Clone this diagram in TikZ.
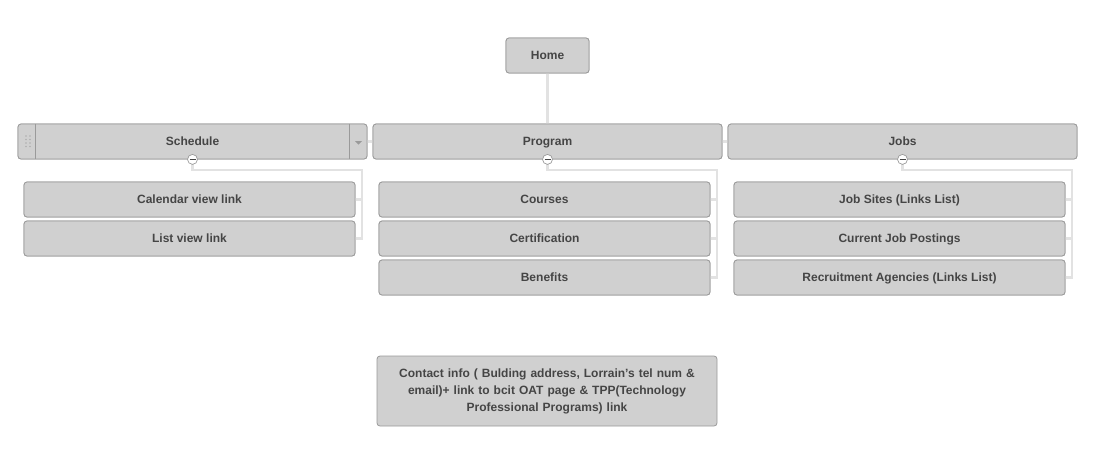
\documentclass[tikz,border=0pt]{standalone}
\usepackage{fontspec}
\setmainfont{Liberation Sans}
\usepackage{tikz}
\usetikzlibrary{positioning}
\definecolor{boxfill}{HTML}{D0D0D0}
\definecolor{boxline}{HTML}{9A9A9A}
\definecolor{boxtext}{HTML}{454545}
\definecolor{linkline}{HTML}{E2E2E2}
\tikzset{page/.style={rectangle,rounded corners=3pt,draw=boxline,fill=boxfill,line width=0.8pt,
    text=boxtext,font=\fontsize{12}{14}\selectfont\bfseries,minimum height=35pt,inner sep=0pt,
    text height=9pt,text depth=2pt},
  top/.style={page,minimum width=349pt},
  sub/.style={page,minimum width=331pt},
  link/.style={draw=linkline,line width=2.6pt},
  toggle/.style={circle,draw=boxline,fill=white,line width=0.7pt,minimum size=10pt,inner sep=0pt}}

\begin{document}
\begin{tikzpicture}[x=1pt,y=-1pt]
        \useasboundingbox (0,0) rectangle (1100,464);
        % links first so boxes sit on top
        \coordinate (schbus) at (362,170);
        \coordinate (progbus) at (717,170);
        \coordinate (jobsbus) at (1072,170);
        \node[top] (sch) at (192.5,141.5) {};
        \node[top] (prog) at (547.5,141.5) {};
        \node[top] (jobs) at (902.5,141.5) {};
        \node[page,minimum width=83pt] (home) at (547.5,55.5) {};
        \node[sub] (sch1) at (189.5,199.5) {};
        \node[sub] (sch2) at (189.5,238.5) {};
        \node[sub] (prog1) at (544.5,199.5) {};
        \node[sub] (prog2) at (544.5,238.5) {};
        \node[sub] (prog3) at (544.5,277.5) {};
        \node[sub] (jobs1) at (899.5,199.5) {};
        \node[sub] (jobs2) at (899.5,238.5) {};
        \node[sub] (jobs3) at (899.5,277.5) {};

        \draw[link] (home.south) -- (prog.north);
        \draw[link] (sch.east) -- (prog.west);
        \draw[link] (prog.east) -- (jobs.west);
        \draw[link] (sch.south) |- (schbus) |- (sch2.east);
        \draw[link] (sch1.east) -- (sch1.east -| schbus);
        \draw[link] (prog.south) |- (progbus) |- (prog3.east);
        \draw[link] (prog1.east) -- (prog1.east -| progbus);
        \draw[link] (prog2.east) -- (prog2.east -| progbus);
        \draw[link] (jobs.south) |- (jobsbus) |- (jobs3.east);
        \draw[link] (jobs1.east) -- (jobs1.east -| jobsbus);
        \draw[link] (jobs2.east) -- (jobs2.east -| jobsbus);

        % boxes with text
        \node[page,minimum width=83pt] at (home) {Home};
        \node[top] (schbox) at (sch) {Schedule};
        \node[top] at (prog) {Program};
        \node[top] at (jobs) {Jobs};
        \node[sub] at (sch1) {Calendar view link};
        \node[sub] at (sch2) {List view link};
        \node[sub] at (prog1) {Courses};
        \node[sub] at (prog2) {Certification};
        \node[sub] at (prog3) {Benefits};
        \node[sub] at (jobs1) {Job Sites (Links List)};
        \node[sub] at (jobs2) {Current Job Postings};
        \node[sub] at (jobs3) {Recruitment Agencies (Links List)};
        \node[page,minimum width=340pt,minimum height=70pt,text width=330pt,align=center,
              text height=,text depth=,
              font=\fontsize{12}{17}\selectfont\bfseries] (contact) at (547,391)
              {Contact info ( Bulding address, Lorrain\symbol{39}s tel num \&\\ email)+ link to bcit OAT page \& TPP(Technology\\ Professional Programs) link};

        % handle and menu on the selected box
        \draw[boxline,line width=0.8pt] ([xshift=18pt]schbox.north west) -- ([xshift=18pt]schbox.south west);
        \draw[boxline,line width=0.8pt] ([xshift=-18pt]schbox.north east) -- ([xshift=-18pt]schbox.south east);
        \foreach \dx in {26,30}
          \foreach \dy in {136,139.5,143,146.5}
            \fill[boxline!80] (\dx,\dy) circle (0.8pt);
        \fill[boxline] (355,141) -- (362,141) -- (358.5,144.5) -- cycle;

        % collapse toggles
        \foreach \n in {sch,prog,jobs} {
          \node[toggle] (\n-tog) at (\n.south) {};
          \draw[boxtext,line width=0.8pt] ([xshift=-3pt]\n-tog.center) -- ([xshift=3pt]\n-tog.center);
        }
\end{tikzpicture}
\end{document}
